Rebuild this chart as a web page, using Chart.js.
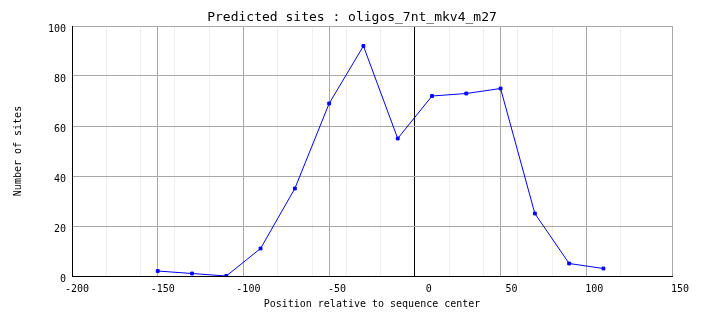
<!DOCTYPE html>
<html><head><meta charset="utf-8">
<script src="https://cdn.jsdelivr.net/npm/chart.js@4/dist/chart.umd.min.js"></script>
<style>html,body{margin:0;padding:0;background:#fff;}#wrap{width:704px;height:328px;}</style>
</head><body><div id="wrap"><canvas id="c" width="704" height="328"></canvas></div>
<script>
const chartTitle = 'Predicted sites : oligos_7nt_mkv4_m27';
const xAxisTitle = 'Position relative to sequence center';
const yAxisTitle = 'Number of sites';
const positions = [-150, -130, -110, -90, -70, -50, -30, -10, 10, 30, 50, 70, 90, 110];
const sites = [2, 1, 0, 11, 35, 69, 92, 55, 72, 73, 75, 25, 5, 3];
const xTicks = [-200, -150, -100, -50, 0, 50, 100, 150];
const yTicks = [0, 20, 40, 60, 80, 100];

Chart.defaults.font.family = "'DejaVu Sans Mono', monospace";
Chart.defaults.color = '#000';

new Chart(document.getElementById('c'), {
  type: 'line',
  data: {
    datasets: [{
      data: positions.map((x, i) => ({x: x, y: sites[i]})),
      xAxisID: 'x', yAxisID: 'y',
      borderColor: '#0000ff', borderWidth: 1,
      pointStyle: 'rect', pointRadius: 2, pointBorderWidth: 1,
      pointBackgroundColor: '#0000ff', pointBorderColor: '#0000ff',
      tension: 0, fill: false
    }]
  },
  options: {
    responsive: false, animation: false,
    layout: {padding: 0},
    plugins: {
      legend: {display: false}, tooltip: {enabled: false},
      title: {display: true, text: chartTitle, color: '#000',
        font: {size: 13, weight: 'normal'}, padding: {top: 10, bottom: 0.4}}
    },
    scales: {
      xMinor: {type: 'linear', position: 'top', min: -200, max: 150, z: -1,
        ticks: {display: false, stepSize: 20},
        grid: {color: '#efefef', drawTicks: false}, border: {display: false},
        afterFit: s => { s.height = 0; }},
      x: {type: 'linear', position: 'bottom', min: -200, max: 150,
        afterBuildTicks: s => { s.ticks = xTicks.map(v => ({value: v})); },
        ticks: {align: 'end', labelOffset: 17, padding: 7, color: '#000', font: {size: 10}, maxRotation: 0, autoSkip: false},
        grid: {drawTicks: false, color: c => (c.tick && (c.tick.value === 0 || c.tick.value === -200)) ? '#000' : '#a8a8a8'},
        border: {color: '#000'},
        title: {display: true, text: xAxisTitle, color: '#000', font: {size: 10}, padding: {top: 0, bottom: 18}},
        afterFit: s => { s.height = 52; }},
      y: {type: 'linear', position: 'left', min: 0, max: 100,
        afterBuildTicks: s => { s.ticks = yTicks.map(v => ({value: v})); },
        ticks: {padding: 6, labelOffset: 3.5, color: '#000', font: {size: 10}},
        grid: {drawTicks: false, color: c => (c.tick && c.tick.value === 0) ? '#000' : '#a8a8a8'},
        border: {color: '#000'},
        title: {display: true, text: yAxisTitle, color: '#000', font: {size: 10}, padding: {top: 12, bottom: 0}},
        afterFit: s => { s.width = 72; }},
      yRight: {type: 'linear', position: 'right', min: 0, max: 100,
        ticks: {display: false}, grid: {display: false}, border: {display: false},
        afterFit: s => { s.width = 32; }}
    }
  }
});
</script>
</body></html>
